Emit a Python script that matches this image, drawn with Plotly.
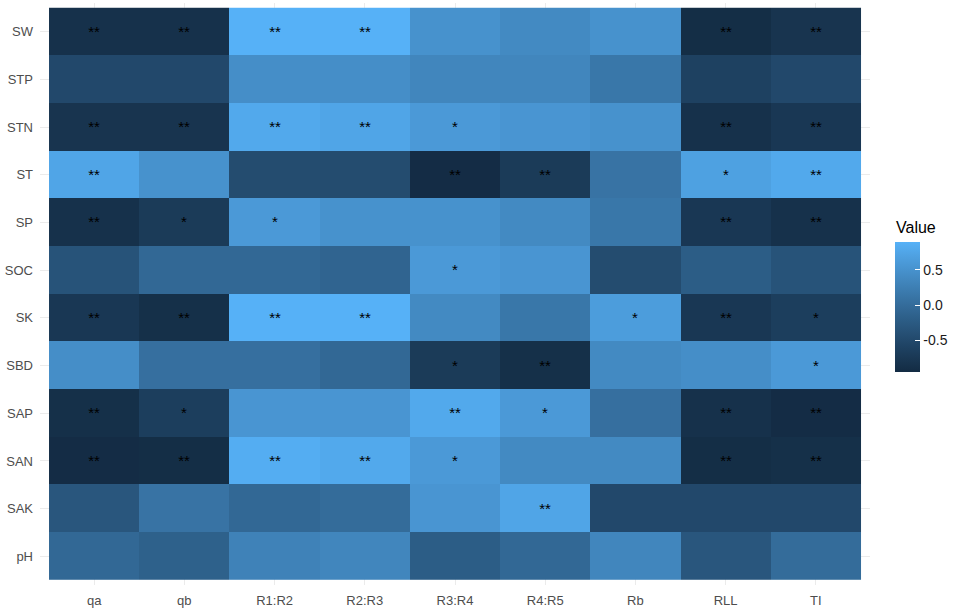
import numpy as np
import plotly.graph_objects as go

# ---- data ----
cols = ["qa", "qb", "R1:R2", "R2:R3", "R3:R4", "R4:R5", "Rb", "RLL", "TI"]
rows = ["pH", "SAK", "SAN", "SAP", "SBD", "SK", "SOC", "SP", "ST", "STN", "STP", "SW"]  # bottom -> top

v_SW  = [-0.85, -0.85, 0.90, 0.90, 0.50, 0.40, 0.50, -0.90, -0.80]
v_STP = [-0.50, -0.50, 0.45, 0.45, 0.35, 0.35, 0.15, -0.60, -0.50]
v_STN = [-0.80, -0.80, 0.80, 0.75, 0.60, 0.55, 0.50, -0.85, -0.75]
v_ST  = [0.75, 0.50, -0.45, -0.45, -0.92, -0.70, 0.10, 0.70, 0.80]
v_SP  = [-0.85, -0.70, 0.60, 0.50, 0.50, 0.40, 0.15, -0.75, -0.85]
v_SOC = [-0.35, -0.05, -0.05, -0.10, 0.60, 0.55, -0.45, -0.20, -0.35]
v_SK  = [-0.75, -0.87, 0.90, 0.90, 0.40, 0.15, 0.65, -0.75, -0.65]
v_SBD = [0.45, 0.05, 0.05, -0.05, -0.70, -0.87, 0.40, 0.45, 0.60]
v_SAP = [-0.87, -0.65, 0.55, 0.55, 0.80, 0.60, 0.05, -0.85, -0.92]
v_SAN = [-0.92, -0.90, 0.85, 0.80, 0.60, 0.40, 0.40, -0.90, -0.87]
v_SAK = [-0.30, 0.10, -0.05, 0.00, 0.55, 0.75, -0.50, -0.50, -0.50]
v_pH  = [-0.05, -0.15, 0.30, 0.35, -0.20, -0.05, 0.35, -0.30, 0.00]

s_SW  = ["**", "**", "**", "**", "", "", "", "**", "**"]
s_STP = ["", "", "", "", "", "", "", "", ""]
s_STN = ["**", "**", "**", "**", "*", "", "", "**", "**"]
s_ST  = ["**", "", "", "", "**", "**", "", "*", "**"]
s_SP  = ["**", "*", "*", "", "", "", "", "**", "**"]
s_SOC = ["", "", "", "", "*", "", "", "", ""]
s_SK  = ["**", "**", "**", "**", "", "", "*", "**", "*"]
s_SBD = ["", "", "", "", "*", "**", "", "", "*"]
s_SAP = ["**", "*", "", "", "**", "*", "", "**", "**"]
s_SAN = ["**", "**", "**", "**", "*", "", "", "**", "**"]
s_SAK = ["", "", "", "", "", "**", "", "", ""]
s_pH  = ["", "", "", "", "", "", "", "", ""]

values = [v_pH, v_SAK, v_SAN, v_SAP, v_SBD, v_SK, v_SOC, v_SP, v_ST, v_STN, v_STP, v_SW]
signif = [s_pH, s_SAK, s_SAN, s_SAP, s_SBD, s_SK, s_SOC, s_SP, s_ST, s_STN, s_STP, s_SW]

cbar_ticks = [-0.5, 0.0, 0.5]
cbar_labels = ["-0.5", "0.0", "0.5"]

# ---- ggplot-like Lab gradient (#132B43 -> #56B1F7) ----
def hex2rgb(h):
    h = h.lstrip("#")
    return np.array([int(h[i:i + 2], 16) for i in (0, 2, 4)]) / 255.0

M = np.array([[0.4124564, 0.3575761, 0.1804375],
              [0.2126729, 0.7151522, 0.0721750],
              [0.0193339, 0.1191920, 0.9503041]])
WP = np.array([0.95047, 1.0, 1.08883])

def rgb2lab(c):
    lin = np.where(c <= 0.04045, c / 12.92, ((c + 0.055) / 1.055) ** 2.4)
    xyz = M @ lin / WP
    f = np.where(xyz > 216 / 24389, np.cbrt(xyz), (24389 / 27 * xyz + 16) / 116)
    return np.array([116 * f[1] - 16, 500 * (f[0] - f[1]), 200 * (f[1] - f[2])])

def lab2hex(lab):
    L, a, b = lab
    fy = (L + 16) / 116
    fx = fy + a / 500
    fz = fy - b / 200
    f = np.array([fx, fy, fz])
    xyz = np.where(f ** 3 > 216 / 24389, f ** 3, (116 * f - 16) / (24389 / 27)) * WP
    lin = np.linalg.inv(M) @ xyz
    lin = np.clip(lin, 0, 1)
    c = np.where(lin <= 0.0031308, 12.92 * lin, 1.055 * lin ** (1 / 2.4) - 0.055)
    c = np.clip(np.round(c * 255), 0, 255).astype(int)
    return "#%02X%02X%02X" % tuple(c)

lo, hi = rgb2lab(hex2rgb("#132B43")), rgb2lab(hex2rgb("#56B1F7"))
n = 11
cscale = [[i / (n - 1), lab2hex(lo + (hi - lo) * i / (n - 1))] for i in range(n)]

zmin, zmax = -0.94, 0.90
W, H = 957, 612
PL, PR, PT, PB = 40, 870, 3, 585  # panel edges in pixels

fig = go.Figure()
fig.add_trace(go.Heatmap(
    z=values, x=cols, y=rows, text=signif, texttemplate="%{text}",
    textfont=dict(size=15, color="black", family="Liberation Sans, Arial"),
    colorscale=cscale, zmin=zmin, zmax=zmax, xgap=0, ygap=0,
    hoverinfo="skip",
    colorbar=dict(
        xref="container", yref="container", x=895 / W, xanchor="left",
        y=1 - 254 / H, yanchor="top",
        lenmode="pixels", len=130, thickness=25, thicknessmode="pixels",
        xpad=0, ypad=0, outlinewidth=0,
        tickvals=cbar_ticks, ticktext=cbar_labels,
        ticks="inside", ticklen=5, tickcolor="white", tickwidth=1,
        tickfont=dict(size=14, color="#1A1A1A", family="Liberation Sans, Arial"),
    ),
))

fig.add_annotation(text="Value", xref="paper", yref="paper", showarrow=False,
                   x=(894 - PL) / (PR - PL), y=1 - (228 - PT) / (PB - PT),
                   xanchor="left", yanchor="middle",
                   font=dict(size=16, color="#000000", family="Liberation Sans, Arial"))

fig.update_layout(
    width=W, height=H,
    margin=dict(l=PL, r=W - PR, t=PT, b=H - PB, autoexpand=False),
    paper_bgcolor="white", plot_bgcolor="white",
    font=dict(family="Liberation Sans, Arial", size=13, color="#4D4D4D"),
    showlegend=False,
)
fig.update_xaxes(range=[-0.6, len(cols) - 0.4], showgrid=True, gridcolor="#EBEBEB", gridwidth=1,
                 zeroline=False, showline=False, ticks="", ticklabelstandoff=6, automargin=False,
                 tickfont=dict(size=13, color="#4D4D4D"))
fig.update_yaxes(range=[-0.6, len(rows) - 0.4], showgrid=True, gridcolor="#EBEBEB", gridwidth=1,
                 zeroline=False, showline=False, ticks="", ticklabelstandoff=6, automargin=False,
                 tickfont=dict(size=13, color="#4D4D4D"))

fig.write_html("out.html", config={"displayModeBar": False},
               post_script="document.body.style.margin='0';")
